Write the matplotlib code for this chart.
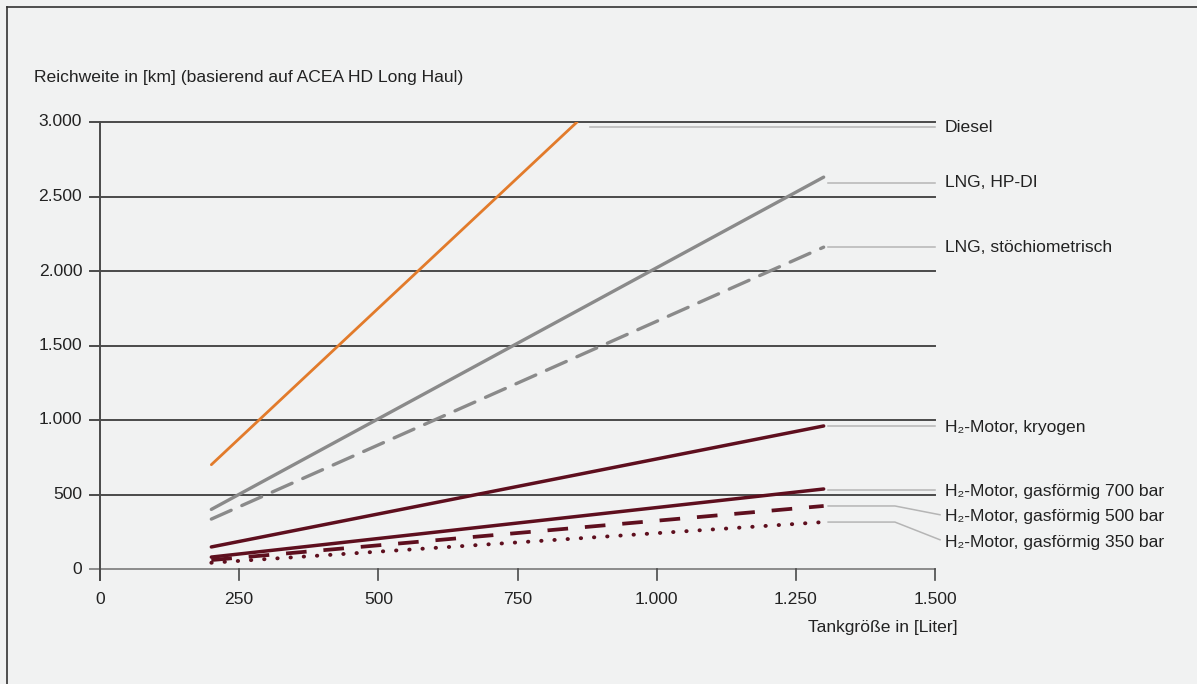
import matplotlib.pyplot as plt
from matplotlib.lines import Line2D

plt.rcParams["font.family"] = ["Liberation Sans", "DejaVu Sans"]

# ----------------------------------------------------------------------
# Data
# ----------------------------------------------------------------------
tank_start = 200
tank_end = 1300

diesel_x = [200, 857]
diesel_y = [700, 3000]

lng_hpdi_y = [400, 2630]
lng_stoech_y = [335, 2160]
h2_kryo_y = [148, 960]
h2_700_y = [80, 537]
h2_500_y = [60, 423]
h2_350_y = [42, 315]

labels = [
    "Diesel",
    "LNG, HP-DI",
    "LNG, stöchiometrisch",
    "H₂-Motor, kryogen",
    "H₂-Motor, gasförmig 700 bar",
    "H₂-Motor, gasförmig 500 bar",
    "H₂-Motor, gasförmig 350 bar",
]
# leader lines: start x, connector y, label y
leader_start_x = [880, 1308, 1308, 1308, 1308, 1308, 1308]
leader_y = [2966, 2591, 2161, 960, 530, 423, 315]
label_y = [2960, 2591, 2161, 953, 523, 349, 181]

x_ticks = [0, 250, 500, 750, 1000, 1250, 1500]
y_ticks = [0, 500, 1000, 1500, 2000, 2500, 3000]

COLORS = {
    "bg": "#f1f2f2",
    "orange": "#e27b2b",
    "gray": "#8a8a8a",
    "red": "#5e0f1e",
    "grid": "#4a4a4a",
    "axis0": "#8c8c8c",
    "leader": "#b5b5b5",
    "text": "#222222",
}
FS = 12.6


def fmt(v):
    return f"{v:,}".replace(",", ".")


fig = plt.figure(figsize=(11.97, 6.84), dpi=100, facecolor=COLORS["bg"])
ax = fig.add_axes([100 / 1197, 115 / 684, 835 / 1197, 447 / 684])
ax.set_facecolor(COLORS["bg"])
ax.set_xlim(0, 1500)
ax.set_ylim(0, 3000)
ax.axis("off")

# frame of the screenshot (top + left only)
fig.add_artist(Line2D([7 / 1197, 1], [1 - 7 / 684] * 2, color="#333333", lw=1.2))
fig.add_artist(Line2D([7 / 1197] * 2, [0, 1 - 7 / 684], color="#333333", lw=1.2))

# grid lines and axes
for v in y_ticks:
    col = COLORS["axis0"] if v == 0 else COLORS["grid"]
    ax.plot([-18, 1500], [v, v], color=col, lw=1.4, clip_on=False, zorder=1)
    ax.text(-32, v, fmt(v), ha="right", va="center", fontsize=FS, color=COLORS["text"])
ax.plot([0, 0], [-74, 3000], color=COLORS["grid"], lw=1.4, clip_on=False, zorder=1)
for v in x_ticks:
    ax.plot([v, v], [0, -74], color=COLORS["grid"], lw=1.2, clip_on=False, zorder=1)
    ax.text(v, -155, fmt(v), ha="center", va="top", fontsize=FS, color=COLORS["text"])

ax.text(-118, 3300, "Reichweite in [km] (basierend auf ACEA HD Long Haul)",
        ha="left", va="center", fontsize=FS, color=COLORS["text"])
ax.text(1540, -395, "Tankgröße in [Liter]", ha="right", va="center",
        fontsize=FS, color=COLORS["text"])

# series
xs = [tank_start, tank_end]
ax.plot(diesel_x, diesel_y, color=COLORS["orange"], lw=2.0, solid_capstyle="round", zorder=3)
ax.plot(xs, lng_hpdi_y, color=COLORS["gray"], lw=2.4, solid_capstyle="round", zorder=3)
ax.plot(xs, lng_stoech_y, color=COLORS["gray"], lw=2.4, dashes=(6.5, 3.5),
        dash_capstyle="round", zorder=3)
ax.plot(xs, h2_kryo_y, color=COLORS["red"], lw=2.5, solid_capstyle="round", zorder=3)
ax.plot(xs, h2_700_y, color=COLORS["red"], lw=2.5, solid_capstyle="round", zorder=3)
ax.plot(xs, h2_500_y, color=COLORS["red"], lw=2.7, dashes=(5.5, 4.5), zorder=3)
ax.plot(xs, h2_350_y, color=COLORS["red"], lw=2.8, dashes=(0.1, 3.3),
        dash_capstyle="round", zorder=3)

# leader lines + labels
for lab, x0, ly, ty in zip(labels, leader_start_x, leader_y, label_y):
    if abs(ly - ty) < 20:
        ax.plot([x0, 1500], [ly, ly], color=COLORS["leader"], lw=1.1, clip_on=False, zorder=2)
    else:
        ax.plot([x0, 1428, 1509], [ly, ly, ty + 15], color=COLORS["leader"], lw=1.1,
                clip_on=False, zorder=2)
    ax.text(1518, ty, lab, ha="left", va="center", fontsize=FS, color=COLORS["text"])

fig.savefig("out.png", dpi=100, facecolor=COLORS["bg"])
